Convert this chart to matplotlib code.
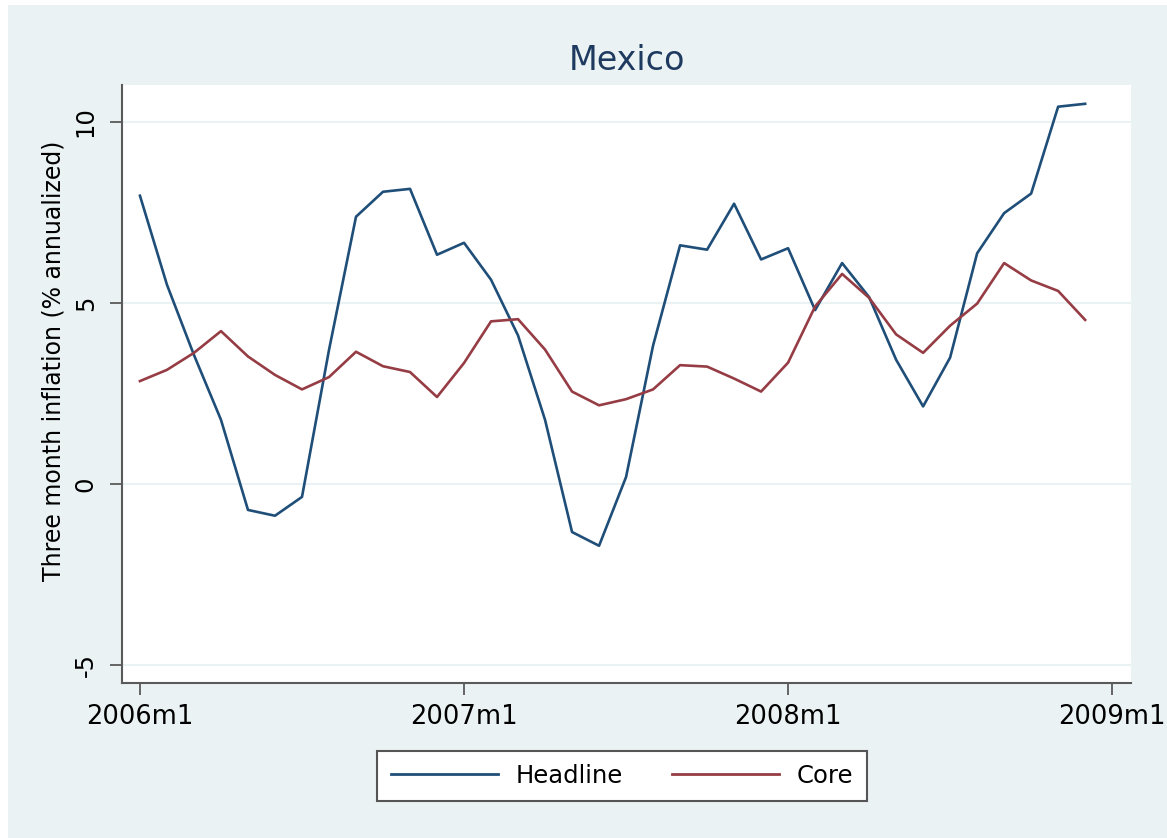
import matplotlib.pyplot as plt
from matplotlib.patches import Rectangle

# monthly data, 2006m1 .. 2008m12
months = list(range(36))
headline = [7.96, 5.5, 3.56, 1.77, -0.72, -0.88, -0.36, 3.7, 7.38, 8.07, 8.15, 6.33,
            6.66, 5.64, 4.1, 1.77, -1.33, -1.71, 0.19, 3.82, 6.59, 6.47, 7.74, 6.2,
            6.51, 4.8, 6.1, 5.16, 3.43, 2.14, 3.49, 6.37, 7.48, 8.02, 10.42, 10.5]
core = [2.84, 3.15, 3.62, 4.22, 3.52, 3.01, 2.61, 2.95, 3.65, 3.25, 3.09, 2.4,
        3.34, 4.49, 4.55, 3.71, 2.55, 2.17, 2.34, 2.61, 3.28, 3.24, 2.91, 2.55,
        3.35, 4.9, 5.8, 5.14, 4.13, 3.62, 4.37, 4.98, 6.1, 5.62, 5.33, 4.53]
xtick_pos = [0, 12, 24, 36]
xtick_labels = ['2006m1', '2007m1', '2008m1', '2009m1']
ytick_pos = [-5, 0, 5, 10]

bg = '#EAF2F3'
axis_col = '#5a5a5a'

fig = plt.figure(figsize=(11.67, 8.38), dpi=100, facecolor='white')
# light background panel (thin white margin on top and left)
fig.patches.append(Rectangle((8 / 1167, 0), 1, 1 - 5 / 838, transform=fig.transFigure,
                             facecolor=bg, edgecolor='none', zorder=-10))

ax = fig.add_axes([0.1045, 0.185, 0.8647, 0.7136])
ax.set_facecolor('white')

ax.plot(months, headline, color='#1F4E78', lw=1.9, label='Headline')
ax.plot(months, core, color='#963C44', lw=1.9, label='Core')

ax.set_xlim(-0.667, 36.7)
ax.set_ylim(-5.5, 11.02)
ax.set_xticks(xtick_pos)
ax.set_xticklabels(xtick_labels)
ax.set_yticks(ytick_pos)
ax.set_yticklabels([str(v) for v in ytick_pos], rotation=90, va='center')
ax.grid(axis='y', color=bg, lw=1.5)
ax.set_axisbelow(True)

for s in ['top', 'right']:
    ax.spines[s].set_visible(False)
for s in ['left', 'bottom']:
    ax.spines[s].set_color(axis_col)
    ax.spines[s].set_linewidth(1.5)

ax.tick_params(axis='x', length=8.5, width=1.3, color=axis_col, labelsize=18.5, pad=7)
ax.tick_params(axis='y', length=8.5, width=1.3, color=axis_col, labelsize=17.5, pad=9)

ax.set_ylabel('Three month inflation (% annualized)', fontsize=17, va='center')
ax.yaxis.set_label_coords(-0.068, 0.538)

ax.set_title('Mexico', fontsize=24, color='#1E3A5F', pad=11)

leg = fig.legend(loc='center', bbox_to_anchor=(0.533, 0.074), ncol=2, fontsize=17.5,
                 handlelength=4.4, handletextpad=0.75, columnspacing=2.0,
                 frameon=True, fancybox=False, borderpad=0.55, framealpha=1)
leg.get_frame().set_facecolor('white')
leg.get_frame().set_edgecolor('#555555')
leg.get_frame().set_linewidth(1.5)
for line in leg.get_lines():
    line.set_linewidth(2)

fig.savefig('out.png', dpi=100, facecolor=fig.get_facecolor())
